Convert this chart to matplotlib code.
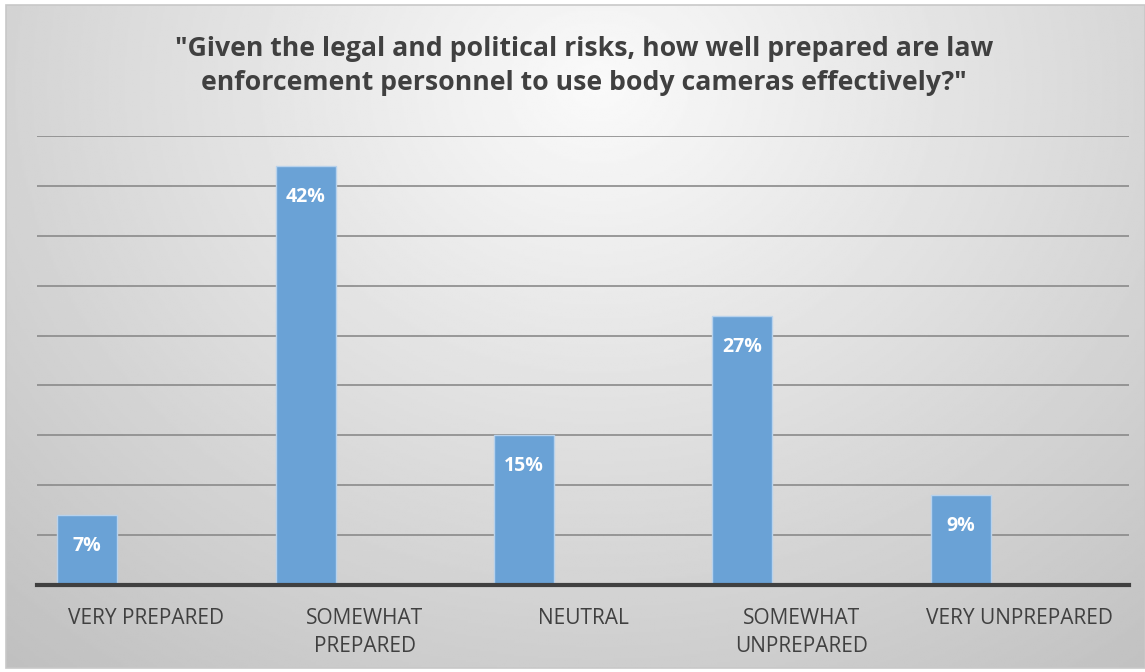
import numpy as np
import matplotlib
matplotlib.use("Agg")
import matplotlib.pyplot as plt
from matplotlib.patches import Rectangle

categories = ["VERY PREPARED", "SOMEWHAT\nPREPARED", "NEUTRAL", "SOMEWHAT\nUNPREPARED", "VERY UNPREPARED"]
values = [7, 42, 15, 27, 9]
value_labels = ["7%", "42%", "15%", "27%", "9%"]
title = '"Given the legal and political risks, how well prepared are law\nenforcement personnel to use body cameras effectively?"'

W, H = 1145, 672
fig = plt.figure(figsize=(W / 100, H / 100), dpi=100)
fig.patch.set_facecolor("white")

# background gradient panel
bx0, by0, bx1, by1 = 6 / W, 1 - 668 / H, 1.0, 1 - 5 / H
bg = fig.add_axes([bx0, by0, bx1 - bx0, by1 - by0])
yy, xx = np.mgrid[0:1:300j, 0:1:600j]
d = np.sqrt(((xx - 0.52) / 0.75) ** 2 + ((yy - 0.12) / 1.1) ** 2)
shade = 0.98 - 0.26 * np.clip(d, 0, 1.2) / 1.2
bg.imshow(shade, cmap="gray", vmin=0, vmax=1, aspect="auto", extent=[0, 1, 1, 0])
bg.set_xlim(0, 1); bg.set_ylim(1, 0)
bg.axis("off")
fig.add_artist(Rectangle((bx0, by0), bx1 - bx0, by1 - by0, transform=fig.transFigure,
                         fill=False, edgecolor="#c8c8c8", linewidth=1.2))

ax = fig.add_axes([37 / W, 87 / H, (1129 - 37) / W, (585 - 136) / H])
ax.patch.set_alpha(0)
x = np.arange(len(categories))
ax.bar(x - 0.27, values, width=0.275, color="#6aa2d6", edgecolor="#b8d2ec", linewidth=1.0, zorder=3)
for xi, v, lab in zip(x, values, value_labels):
    ax.annotate(lab, (xi - 0.27, v), xytext=(0, -31), textcoords="offset pixels",
                ha="center", va="center", color="white", fontsize=14, fontweight="bold",
                family="Open Sans", zorder=4)
ax.set_xlim(-0.5, 4.5)
ax.set_ylim(0, 45)
ax.set_yticks(np.arange(0, 46, 5))
ax.yaxis.grid(True, color="#8a8a8a", linewidth=1.2, zorder=0)
ax.set_axisbelow(True)
ax.tick_params(axis="y", left=False, labelleft=False)
ax.tick_params(axis="x", bottom=False, pad=13)
ax.set_xticks(x)
ax.set_xticklabels(categories, fontsize=15, color="#404040", family="Open Sans", linespacing=1.45, va="top")
for s in ["top", "right", "left"]:
    ax.spines[s].set_visible(False)
ax.spines["bottom"].set_color("#404040")
ax.spines["bottom"].set_linewidth(3)
ax.spines["bottom"].set_zorder(5)

fig.text(584 / W, 1 - 65.5 / H, title, ha="center", va="center", fontsize=19.2, fontweight="bold",
         color="#404040", family="Open Sans", linespacing=1.4)

fig.savefig("out.png", dpi=100)
